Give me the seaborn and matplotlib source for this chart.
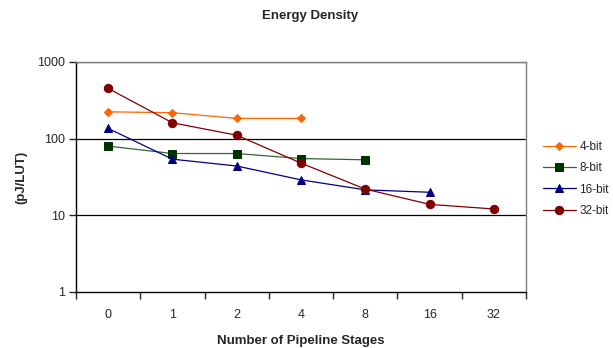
import matplotlib
matplotlib.use("Agg")
import matplotlib.pyplot as plt
import seaborn as sns
import pandas as pd
import numpy as np
from matplotlib.ticker import FixedLocator, NullLocator, FixedFormatter

stages = ["0", "1", "2", "4", "8", "16", "32"]
bit4 = [224, 218, 184, 184]
bit8 = [80, 64, 64, 55, 53]
bit16 = [136, 54, 44, 29, 21.5, 20]
bit32 = [453, 161, 111, 48, 22, 13.9, 12.1]
series_names = ["4-bit", "8-bit", "16-bit", "32-bit"]
series_vals = [bit4, bit8, bit16, bit32]
colors = ["#FF6600", "#003300", "#000080", "#800000"]
line_colors = ["#FF6600", "#336633", "#000080", "#800000"]
markers = ["D", "s", "^", "o"]
msizes = [4.5, 5.5, 6, 6]

sns.set_style("white")
plt.rcParams['font.family'] = ['Liberation Sans', 'DejaVu Sans']

fig = plt.figure(figsize=(6.13, 3.48), dpi=100)
ax = fig.add_axes([76/613, 56/348, (526-76)/613, (292-62)/348])

rows = []
for name, vals in zip(series_names, series_vals):
    for i, v in enumerate(vals):
        rows.append({"series": name, "pos": i, "val": v})
df = pd.DataFrame(rows)

for name, col, lc, m, ms in zip(series_names, colors, line_colors, markers, msizes):
    sub = df[df.series == name]
    sns.lineplot(data=sub, x="pos", y="val", ax=ax, color=lc, marker=m,
                 markersize=ms, markerfacecolor=col, markeredgecolor=col,
                 linewidth=0.9, label=name, legend=False)

ax.set_yscale("log")
ax.set_ylim(1, 1000)
ax.set_xlim(-0.5, len(stages) - 0.5)
ax.yaxis.set_major_locator(FixedLocator([1, 10, 100, 1000]))
ax.yaxis.set_major_formatter(FixedFormatter(["1", "10", "100", "1000"]))
ax.yaxis.set_minor_locator(NullLocator())
for yv in [10, 100, 1000]:
    ax.axhline(yv, color="black", linewidth=0.9, zorder=0)

ax.set_xticks(np.arange(len(stages)))
ax.set_xticklabels(stages)
ax.set_xticks(np.arange(len(stages) + 1) - 0.5, minor=True)
ax.tick_params(axis="x", which="major", length=0, pad=12, labelsize=9)
ax.tick_params(axis="x", which="minor", length=5, width=1, direction="out", bottom=True)
ax.tick_params(axis="y", which="major", length=5, width=1, direction="out", left=True, labelsize=9, pad=3)

for s in ["left", "bottom"]:
    ax.spines[s].set_color("black")
    ax.spines[s].set_linewidth(1.0)
for s in ["top", "right"]:
    ax.spines[s].set_color("#808080")
    ax.spines[s].set_linewidth(1.0)

ax.set_xlabel("Number of Pipeline Stages", fontsize=9.5, fontweight="bold", labelpad=10)
ax.set_ylabel("(pJ/LUT)", fontsize=9.5, fontweight="bold", labelpad=7)
fig.text(310/613, 1 - 16/348, "Energy Density", ha="center", va="center",
         fontsize=9.5, fontweight="bold")

handles, labels = ax.get_legend_handles_labels()
leg = fig.legend(handles, labels, loc="upper left", bbox_to_anchor=(538/613, 1 - 136/348),
                 frameon=False, fontsize=8.5, handlelength=2.8, labelspacing=0.8,
                 handletextpad=0.3, borderaxespad=0)

fig.savefig("out.png", dpi=100, facecolor="white")
